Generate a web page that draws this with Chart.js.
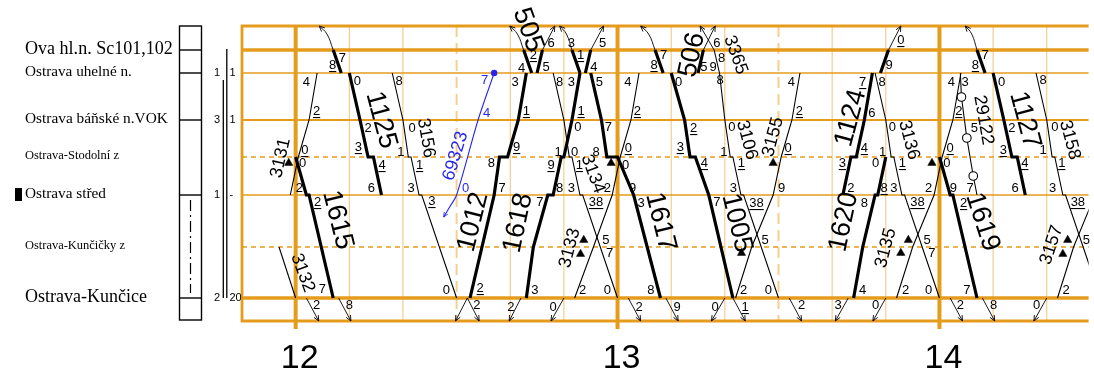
<!DOCTYPE html>
<html>
<head>
<meta charset="utf-8">
<script src="https://cdn.jsdelivr.net/npm/chart.js@4.4.1/dist/chart.umd.min.js"></script>
<style>html,body{margin:0;padding:0;background:#fff;}canvas{display:block;}</style>
</head>
<body>
<canvas id="graph" width="1094" height="370"></canvas>
<script>
// Stations along the line (distance axis, drawing units from the upper frame edge)
const stationNames = ['Ova hl.n. Sc101,102', 'Ostrava uhelné n.', 'Ostrava báňské n.VOK',
  'Ostrava-Stodolní z', 'Ostrava střed', 'Ostrava-Kunčičky z', 'Ostrava-Kunčice'];
const stationCodes = ['H', 'U', 'B', 'S', 'D', 'K', 'C'];
const stationKm = [24, 47, 94, 131, 169, 221, 272];
const edge = { T: 0, E: 295 };

// Time axis: minutes after 12:00
const timeMin = -10, timeMax = 147.8;
const hourTicks = [0, 60, 120];
const hourLabels = ['12', '13', '14'];

// Train paths: [minute, station], null = no line between the two points
const t1125 = [[7, 'H'], [8.5, 'U'], null, [10, 'U'], [12, 'B'], [13.5, 'S'], [14.5, 'S'], [16, 'D']];
const t1615 = [[0, 'S'], [2, 'D'], [2.5, 'D'], [7, 'C']];
const t1012 = [[32.5, 'C'], [37, 'D'], [38, 'S'], [39.5, 'S'], [41.5, 'B'], [43, 'U']];
const t505 = [[42.5, 'H'], [44, 'U'], null, [45, 'U'], [46, 'H']];
const t1618 = [[43, 'C'], [44.3, 'K'], [47, 'D'], [48, 'D'], [49.5, 'S'], [50, 'S'], [51.5, 'B'], [53, 'U']];
const tTurn53 = [[51.5, 'H'], [53, 'U'], null, [54, 'U'], [55, 'H']];
const t1617 = [[55, 'U'], [57, 'B'], [58, 'S'], [60, 'S'], [63, 'D'], [68, 'C']];
const t506 = [[67, 'H'], [68.5, 'U'], null, [75, 'U'], [76, 'H']];
const t1005 = [[70, 'U'], [72.5, 'B'], [73.5, 'S'], [74.5, 'S'], [77, 'D'], [81.5, 'C']];
const t1124 = [[102, 'D'], [103.5, 'S'], [104.5, 'S'], [106, 'B'], [107.5, 'U'], null, [109, 'U'], [110.5, 'H']];
const t1620 = [[104, 'C'], [105.7, 'K'], [108, 'D'], [108.5, 'D'], [110, 'S']];
const t1619 = [[120, 'S'], [122, 'D'], [122.5, 'D'], [127, 'C']];
const t1127 = [[127, 'H'], [128.5, 'U'], null, [130, 'U'], [132, 'B'], [133.5, 'S'], [134.5, 'S'], [136, 'D']];

const t3131 = [[-1, 'D'], [0.5, 'S'], [2.5, 'B'], [4, 'U']];
const t3132 = [[-3.1, 'K'], [0, 'C']];
const t3156 = [[18, 'U'], [20, 'B'], [21, 'S'], [21.5, 'S'], [23, 'D'], [23.5, 'D'], [30, 'C']];
const t3134 = [[48, 'U'], [50, 'B'], [51, 'S'], [51.5, 'S'], [53, 'D'], [53.5, 'D'], [60, 'C']];
const t3133 = [[52, 'C'], [55.5, 'K'], [59, 'D'], [60.5, 'S'], [62.5, 'B'], [64, 'U']];
const t3106 = [[78, 'H'], [79, 'U'], [80, 'B'], [81, 'S'], [81.5, 'S'], [83, 'D'], [83.5, 'D'], [90, 'C']];
const t3155 = [[82, 'C'], [85, 'K'], [89, 'D'], [90.5, 'S'], [92.5, 'B'], [94, 'U']];
const t3136 = [[108, 'U'], [110, 'B'], [111, 'S'], [111.5, 'S'], [113, 'D'], [113.5, 'D'], [120, 'C']];
const t3135 = [[112, 'C'], [115, 'K'], [119, 'D'], [120.5, 'S'], [122.5, 'B'], [124, 'U']];
const t29122 = [[123.9, 'U'], [124.1, 71], [125.1, 112], [126.3, 150], [127, 'D']];
const t29122Stops = [[124.1, 71], [125.1, 112], [126.3, 150]];
const t3158 = [[138, 'U'], [140, 'B'], [141, 'S'], [141.5, 'S'], [143, 'D'], [143.5, 'D'], [150, 'C']];
const t3157 = [[142, 'C'], [145, 'K'], [149, 'D']];
const t69323 = [[27.6, 191], [28.7, 181], [30, 'D'], [34, 'B'], [37, 'U']];

// Runs to and from the neighbouring sections (arrow at the frame edge)
const edgeArrows = [
  [[46, 'H'], [48.3, 'T']], [[55, 'H'], [57.4, 'T']], [[75.4, 'T'], [78, 'H']], [[76, 'H'], [78.2, 'T']],
  [[110.5, 'H'], [112.8, 'T']],
  [[2, 'C'], [4.3, 'E']], [[8, 'C'], [10.3, 'E']], [[29.8, 'E'], [32, 'C']], [[32, 'C'], [34.2, 'E']],
  [[39.8, 'E'], [42, 'C']], [[47.6, 'E'], [50, 'C']], [[62, 'C'], [64.3, 'E']], [[69, 'C'], [71.3, 'E']],
  [[77.5, 'E'], [80, 'C']], [[81.5, 'C'], [83.8, 'E']], [[92, 'C'], [94.3, 'E']], [[100.6, 'E'], [103, 'C']],
  [[107.6, 'E'], [110, 'C']], [[122, 'C'], [124.3, 'E']], [[128, 'C'], [130.3, 'E']], [[137.6, 'E'], [140, 'C']]
];
// Curved arrivals from beyond the upper frame: [minute at frame, minute at Ova hl.n.]
const approachCurves = [[4.4, 7], [39.9, 42.5], [49.2, 51.5], [64.3, 67], [124.8, 127]];

// Junction symbols
const junctionMarks = [[-1.3, 137], [58.8, 137], [53.7, 214], [53.1, 228], [83.1, 227], [89.0, 137],
  [114.2, 214], [112.8, 227], [118.6, 137], [143.9, 214], [143.0, 228]];

// Minute figures: [minute, position, text, underlined]
const minuteMarks = [
  [8.7, 32, '7'], [6.9, 39, '8', 1], [11.5, 55, '0'], [13.5, 102, '2'], [11.7, 121, '3', 1], [16.1, 139, '4', 1], [14.1, 162, '6'],
  [2.0, 56, '4'], [3.9, 85, '2', 1], [1.7, 124, '0', 1], [1.3, 137, '0'], [0.7, 162, '2'], [4.1, 176, '2', 1], [5.0, 263, '7'],
  [3.9, 279, '2'], [10.0, 279, '8'],
  [19.3, 55, '8'], [21.7, 102, '0'], [19.6, 126, '1'], [23.1, 139, '1', 1], [21.5, 162, '3'], [25.4, 175, '3', 1], [28.1, 264, '0'],
  [34.4, 262, '2', 1], [33.8, 279, '2'],
  [38.5, 162, '7'], [36.5, 137, '8'], [41.2, 121, '9', 1], [43.0, 85, '1', 1], [40.9, 56, '3'], [42.1, 42, '4'], [44.3, 29, '2', 1],
  [46.7, 41, '5'], [47.6, 17, '6'], [49.2, 56, '8'], [51.4, 17, '3'], [53.1, 29, '1', 1], [51.4, 56, '3'], [55.6, 41, '4'], [57.2, 17, '5'],
  [56.6, 56, '5'], [53.2, 85, '1', 1], [52.6, 101, '0'], [58.3, 101, '7'], [48.9, 126, '1'], [52.0, 126, '0'], [56.0, 126, '8'],
  [62.0, 122, '0', 1], [47.6, 139, '9', 1], [52.9, 139, '1', 1], [61.5, 139, '0'], [49.2, 162, '8'], [51.4, 162, '3'], [58.1, 162, '2'],
  [62.8, 162, '9'], [45.5, 176, '7'], [56.0, 176, '38', 1], [64.4, 177, '3'], [57.8, 214, '5'], [58.5, 227, '7'],
  [44.6, 264, '3'], [53.5, 264, '2'], [58.1, 264, '0'], [66.2, 264, '8'],
  [40.1, 281, '2'], [48.0, 281, '0'], [64.0, 281, '2'], [71.1, 281, '9'],
  [61.9, 56, '4'], [63.7, 85, '2', 1], [66.8, 39, '8', 1], [68.6, 29, '7'], [71.4, 56, '0'], [74.2, 102, '2', 1], [71.7, 121, '3', 1],
  [76.2, 137, '4', 1], [76.1, 41, '5'], [77.8, 41, '9'], [78.5, 17, '6'], [79.4, 32, '8'], [79.1, 54, '8'], [81.3, 101, '0'],
  [79.8, 126, '1'], [83.1, 137, '1', 1], [78.5, 176, '7'], [81.6, 162, '3'], [85.9, 177, '38', 1], [87.5, 214, '5'],
  [83.5, 264, '2'], [88.1, 264, '0'], [78.2, 281, '0'], [83.8, 281, '1', 1],
  [92.4, 56, '4'], [93.9, 85, '2', 1], [91.8, 122, '0', 1], [90.6, 162, '9'], [94.3, 279, '2'], [101.1, 279, '3'], [108.1, 279, '0'],
  [105.7, 56, '7', 1], [109.3, 56, '8'], [110.6, 39, '9'], [112.8, 14, '0', 1], [107.4, 87, '6'], [111.2, 101, '0'], [109.4, 126, '1'],
  [113.1, 137, '1', 1], [101.9, 137, '3', 1], [106.0, 122, '4', 1], [108.1, 137, '0'], [103.5, 162, '2'], [109.7, 162, '8', 1],
  [111.5, 162, '3'], [106.0, 177, '8'], [115.9, 176, '38', 1], [117.7, 214, '5'], [118.6, 227, '7'],
  [105.7, 264, '4'], [113.7, 264, '2'], [118.0, 264, '0'],
  [121.4, 137, '0'], [122.0, 122, '0', 1], [122.2, 56, '4'], [124.8, 56, '3'], [123.6, 85, '2', 1], [126.5, 102, '5'],
  [126.7, 39, '8', 1], [128.5, 29, '7'], [131.6, 56, '0'], [133.5, 102, '2'], [131.9, 124, '3', 1], [135.9, 137, '4', 1], [134.1, 162, '6'],
  [118.0, 162, '2'], [122.6, 162, '9'], [125.7, 162, '7'], [124.5, 177, '2', 1], [125.1, 264, '7'], [123.9, 279, '2'], [130.1, 279, '8'],
  [139.3, 54, '8'], [141.5, 101, '0'], [139.3, 124, '1'], [142.8, 137, '1', 1], [141.1, 162, '3'], [145.8, 176, '38', 1], [147.4, 214, '5'],
  [143.6, 264, '2'], [138.1, 279, '0']
];
const blueMarks = [[35.2, 54, '7'], [35.6, 87, '4'], [31.7, 162, '0']];

// Train numbers: [text, minute, position, angle in degrees, kind]
const trainNumbers = [
  ['3131', -2.8, 132, -77, 's'], ['1125', 15.9, 94, 75, 'L'], ['3156', 24.3, 112, 80, 's'],
  ['1615', 7.8, 194, 76, 'L'], ['3132', 1.3, 247, 70, 's'], ['69323', 29.8, 130, -73, 'b'],
  ['1012', 33.1, 196, -76, 'L'], ['505', 43.3, 4, 70, 'L'], ['1618', 41.5, 197, -78, 'L'],
  ['3134', 55.4, 148, 70, 's'], ['3133', 51.1, 222, -75, 's'], ['1617', 68.0, 196, 76, 'L'],
  ['506', 73.9, 29, -78, 'L'], ['3365', 82.0, 29, 70, 's'], ['3106', 84.1, 114, 75, 's'],
  ['1005', 82.2, 197, 76, 'L'], ['3155', 89.0, 111, -75, 's'], ['1124', 103.5, 92, -75, 'L'],
  ['1620', 102.2, 196, -78, 'L'], ['3136', 114.3, 114, 75, 's'], ['3135', 110.0, 222, -75, 's'],
  ['29122', 128.2, 94, 80, 's'], ['1127', 135.9, 94, 75, 'L'], ['1619', 128.0, 196, 72, 'L'],
  ['3158', 144.3, 114, 75, 's'], ['3157', 140.9, 219, -72, 's']
];

// Line-section figures beside the station column: [station index, left, right]
const sectionFigures = [[1, '1', '1'], [2, '3', '1'], [4, '1', '-'], [6, '2', '20']];

const ORANGE = '#E59C1C';
const ORANGE_LIGHT = '#F0C47C';
const BLUE = '#2626F0';

function posOf(k) {
  if (typeof k === 'number') return k;
  if (k in edge) return edge[k];
  return stationKm[stationCodes.indexOf(k)];
}
function toPoints(path) {
  const out = [];
  let last = 0;
  for (const p of path) {
    if (p === null) { out.push({ x: last, y: null }); continue; }
    out.push({ x: p[0], y: posOf(p[1]) });
    last = p[0];
  }
  return out;
}
function lineSet(path, width, color, extra) {
  return Object.assign({
    data: toPoints(path), showLine: true, borderColor: color, backgroundColor: color,
    borderWidth: width, pointRadius: 0, pointHoverRadius: 0, tension: 0, fill: false,
    spanGaps: false, borderCapStyle: 'butt', borderJoinStyle: 'miter'
  }, extra || {});
}

const thickTrains = [t1125, t1615, t1012, t505, t1618, tTurn53, t1617, t506, t1005, t1124, t1620, t1619, t1127];
const thinTrains = [t3131, t3132, t3156, t3134, t3133, t3106, t3155, t3136, t3135, t29122, t3158, t3157];

const datasets = [];
datasets.push({
  data: junctionMarks.map(p => ({ x: p[0], y: p[1] })), showLine: false,
  pointStyle: 'triangle', pointRadius: 4.8, pointBackgroundColor: '#000', pointBorderColor: '#000', pointBorderWidth: 0.5
});
datasets.push({
  data: t29122Stops.map(p => ({ x: p[0], y: p[1] })), showLine: false,
  pointStyle: 'circle', pointRadius: 4.3, pointBackgroundColor: '#fff', pointBorderColor: '#000', pointBorderWidth: 1.1
});
datasets.push({
  data: [{ x: t69323[t69323.length - 1][0], y: posOf(t69323[t69323.length - 1][1]) }], showLine: false,
  pointStyle: 'circle', pointRadius: 3.2, pointBackgroundColor: BLUE, pointBorderColor: BLUE, pointBorderWidth: 0
});
thickTrains.forEach(t => datasets.push(lineSet(t, 3.2, '#000')));
thinTrains.forEach(t => datasets.push(lineSet(t, 1.1, '#000')));
datasets.push(lineSet(t69323, 1.1, BLUE, { tension: 0.3 }));
edgeArrows.forEach(a => datasets.push(lineSet(a, 0.9, '#000')));
approachCurves.forEach(c => datasets.push(lineSet(
  [[c[0], 'T'], [c[0] + 0.55 * (c[1] - c[0]), 8], [c[1], 'H']], 0.9, '#000', { tension: 0.45 })));

function arrowHead(ctx, x0, y0, x1, y1, len) {
  const ang = Math.atan2(y1 - y0, x1 - x0), s = 0.42;
  ctx.beginPath();
  ctx.moveTo(x1 - len * Math.cos(ang - s), y1 - len * Math.sin(ang - s));
  ctx.lineTo(x1, y1);
  ctx.lineTo(x1 - len * Math.cos(ang + s), y1 - len * Math.sin(ang + s));
  ctx.stroke();
}

const gridPlugin = {
  id: 'timetableGrid',
  beforeDatasetsDraw(chart) {
    const { ctx, chartArea: a, scales: { x, y } } = chart;
    const yTop = y.getPixelForValue(edge.T), yBot = y.getPixelForValue(edge.E);
    ctx.save();
    // ten-minute and half-hour lines
    for (let m = timeMin + 10; m <= timeMax; m += 10) {
      const r = ((m % 60) + 60) % 60;
      if (r === 0) continue;
      const px = x.getPixelForValue(m);
      ctx.beginPath();
      if (r === 30) { ctx.setLineDash([11, 6]); ctx.lineWidth = 2; ctx.strokeStyle = '#F4D08F'; }
      else { ctx.setLineDash([]); ctx.lineWidth = 1; ctx.strokeStyle = ORANGE_LIGHT; }
      ctx.moveTo(px, yTop); ctx.lineTo(px, yBot); ctx.stroke();
    }
    ctx.setLineDash([]);
    // station lines
    const widths = { H: 3.4, U: 1.5, B: 1.8, D: 1.5, C: 3.6 };
    stationCodes.forEach((c, i) => {
      const py = y.getPixelForValue(stationKm[i]);
      ctx.beginPath();
      ctx.strokeStyle = ORANGE;
      if (c === 'S' || c === 'K') { ctx.setLineDash([5, 4]); ctx.lineWidth = 1.4; }
      else { ctx.setLineDash([]); ctx.lineWidth = widths[c]; }
      ctx.moveTo(a.left, py); ctx.lineTo(a.right, py); ctx.stroke();
    });
    ctx.setLineDash([]);
    // frame
    ctx.strokeStyle = ORANGE; ctx.lineWidth = 2.8;
    ctx.beginPath();
    ctx.moveTo(a.right, yTop); ctx.lineTo(a.left, yTop); ctx.lineTo(a.left, yBot); ctx.lineTo(a.right, yBot);
    ctx.stroke();
    // hour lines
    ctx.lineWidth = 4;
    hourTicks.forEach(h => {
      const px = x.getPixelForValue(h);
      ctx.beginPath(); ctx.moveTo(px, yTop - 1); ctx.lineTo(px, yBot + 8); ctx.stroke();
    });
    ctx.restore();
  },
  afterDatasetsDraw(chart) {
    const { ctx, scales: { x, y } } = chart;
    ctx.save();
    // arrow heads at the frame edges
    ctx.strokeStyle = '#000'; ctx.lineWidth = 0.9;
    edgeArrows.forEach(a => {
      const p0 = a[0], p1 = a[1];
      const atEdge0 = (p0[1] === 'T' || p0[1] === 'E');
      const tip = atEdge0 ? p0 : p1, from = atEdge0 ? p1 : p0;
      arrowHead(ctx, x.getPixelForValue(from[0]), y.getPixelForValue(posOf(from[1])),
        x.getPixelForValue(tip[0]), y.getPixelForValue(posOf(tip[1])), 6);
    });
    approachCurves.forEach(c => {
      const mx = c[0] + 0.3 * (c[1] - c[0]);
      arrowHead(ctx, x.getPixelForValue(mx), y.getPixelForValue(4),
        x.getPixelForValue(c[0]), y.getPixelForValue(edge.T), 6);
    });
    ctx.strokeStyle = BLUE;
    arrowHead(ctx, x.getPixelForValue(t69323[1][0]), y.getPixelForValue(t69323[1][1]),
      x.getPixelForValue(t69323[0][0]), y.getPixelForValue(t69323[0][1]), 5);

    // minute figures
    ctx.textAlign = 'center'; ctx.textBaseline = 'middle';
    ctx.font = '13px "Liberation Sans", Arial, sans-serif';
    const drawFig = (m, color) => {
      const px = x.getPixelForValue(m[0]), py = y.getPixelForValue(m[1]);
      ctx.fillStyle = color;
      ctx.fillText(m[2], px, py);
      if (m[3]) {
        const w = ctx.measureText(m[2]).width;
        ctx.fillRect(px - w / 2, py + 6, w, 1.1);
      }
    };
    minuteMarks.forEach(m => drawFig(m, '#000'));
    blueMarks.forEach(m => drawFig(m, BLUE));

    // train numbers
    trainNumbers.forEach(t => {
      const px = x.getPixelForValue(t[1]), py = y.getPixelForValue(t[2]);
      ctx.save();
      ctx.translate(px, py);
      ctx.rotate(t[3] * Math.PI / 180);
      ctx.fillStyle = t[4] === 'b' ? BLUE : '#000';
      ctx.font = (t[4] === 'L' ? '27px' : '18px') + ' "Liberation Sans", Arial, sans-serif';
      ctx.fillText(t[0], 0, 0);
      ctx.restore();
    });
    ctx.restore();
  },
  afterDraw(chart) {
    const { ctx, scales: { x, y } } = chart;
    ctx.save();
    ctx.fillStyle = '#000'; ctx.strokeStyle = '#000';
    // station names
    const targetW = [148, 107, 143, 94, 81, 100, 122];
    const baseSize = [18, 15, 16, 13, 17, 13, 19];
    ctx.textAlign = 'left'; ctx.textBaseline = 'middle';
    stationNames.forEach((n, i) => {
      const py = y.getPixelForValue(stationKm[i]) - 1;
      ctx.font = baseSize[i] + 'px "Liberation Serif", "Times New Roman", serif';
      const s = baseSize[i] * targetW[i] / ctx.measureText(n).width;
      ctx.font = s.toFixed(2) + 'px "Liberation Serif", "Times New Roman", serif';
      ctx.fillText(n, 25, py);
    });
    const yD = y.getPixelForValue(stationKm[4]);
    ctx.fillRect(15, yD - 7, 7, 13);

    // station column box
    const yTop = y.getPixelForValue(edge.T), yBot = y.getPixelForValue(edge.E);
    ctx.lineWidth = 1.4;
    ctx.strokeRect(179.5, yTop, 22, yBot - yTop - 1);
    [0, 1, 2, 4, 6].forEach(i => {
      const py = y.getPixelForValue(stationKm[i]);
      ctx.beginPath(); ctx.moveTo(179.5, py); ctx.lineTo(201.5, py); ctx.stroke();
    });
    ctx.lineWidth = 1.2;
    ctx.setLineDash([11, 4, 2, 4]);
    ctx.beginPath(); ctx.moveTo(190.5, yD + 5); ctx.lineTo(190.5, y.getPixelForValue(stationKm[6]) - 5); ctx.stroke();
    ctx.setLineDash([]);

    // section figures and double line
    const yC = y.getPixelForValue(stationKm[6]);
    ctx.lineWidth = 1.3;
    ctx.beginPath(); ctx.moveTo(223.3, y.getPixelForValue(stationKm[1]) + 7); ctx.lineTo(223.3, yC); ctx.stroke();
    ctx.beginPath(); ctx.moveTo(226.8, y.getPixelForValue(stationKm[0]) - 1); ctx.lineTo(226.8, yC); ctx.stroke();
    ctx.font = '11px "Liberation Sans", Arial, sans-serif';
    sectionFigures.forEach(f => {
      const py = y.getPixelForValue(stationKm[f[0]]);
      ctx.textAlign = 'right'; ctx.fillText(f[1], 220, py);
      ctx.textAlign = 'left'; ctx.fillText(f[2], 229.5, py);
    });

    // hour figures
    ctx.font = '34px "Liberation Sans", Arial, sans-serif';
    ctx.textAlign = 'center'; ctx.textBaseline = 'alphabetic';
    hourTicks.forEach((h, i) => ctx.fillText(hourLabels[i], x.getPixelForValue(h) + 4, 368));
    ctx.restore();
  }
};

new Chart(document.getElementById('graph'), {
  type: 'scatter',
  data: { datasets },
  options: {
    responsive: false,
    devicePixelRatio: 1,
    animation: false,
    events: [],
    layout: { padding: { left: 242, top: 26, right: 0, bottom: 49 } },
    plugins: { legend: { display: false }, tooltip: { enabled: false } },
    scales: {
      x: { type: 'linear', min: timeMin, max: timeMax, display: false },
      y: { type: 'linear', min: edge.T, max: edge.E, reverse: true, display: false }
    }
  },
  plugins: [gridPlugin]
});
</script>
</body>
</html>
